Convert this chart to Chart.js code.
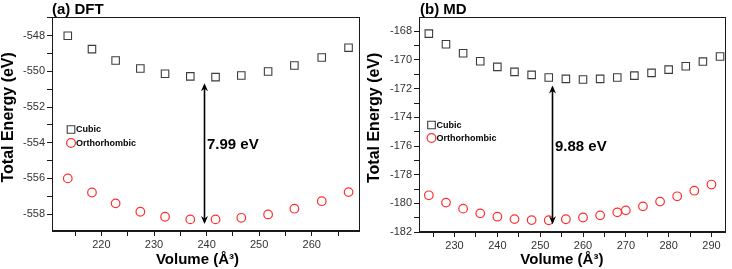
<!DOCTYPE html>
<html><head><meta charset="utf-8">
<script src="https://cdn.jsdelivr.net/npm/chart.js@4.4.0/dist/chart.umd.min.js"></script>
<style>
html,body{margin:0;padding:0;background:#fff;}
#wrap{position:relative;width:732px;height:269px;overflow:hidden;background:#fff;}
.panel{position:absolute;top:0;width:366px;height:269px;}
.panel canvas{display:block;}
.ptitle{position:absolute;top:0;font:bold 15px "Liberation Sans",Arial,sans-serif;color:#000;line-height:17px;white-space:nowrap;}
</style></head><body>
<div id="wrap">
<div class="panel" style="left:0"><canvas id="c1" width="366" height="269"></canvas></div>
<div class="panel" style="left:366px"><canvas id="c2" width="366" height="269"></canvas></div>
<div class="ptitle" style="left:52px">(a) DFT</div>
<div class="ptitle" style="left:420px">(b) MD</div>
</div>
<script>
// ---------- data ----------
const seriesNames = ['Cubic', 'Orthorhombic'];

const dftVolume = [213.6, 218.2, 222.7, 227.4, 232.1, 236.9, 241.7, 246.6, 251.7, 256.7, 261.9, 267.0];
const dftCubic  = [-548.00, -548.75, -549.39, -549.84, -550.13, -550.28, -550.32, -550.23, -550.01, -549.67, -549.22, -548.67];
const dftOrtho  = [-556.00, -556.79, -557.40, -557.87, -558.15, -558.30, -558.30, -558.21, -558.02, -557.70, -557.28, -556.77];

const mdVolumeCubic = [224, 228, 232, 236, 240, 244, 248, 252, 256, 260, 264, 268, 272, 276, 280, 284, 288, 292];
const mdCubic       = [-168.16, -168.90, -169.53, -170.09, -170.48, -170.83, -171.04, -171.22, -171.32, -171.36, -171.32, -171.22, -171.09, -170.90, -170.67, -170.44, -170.11, -169.76];
const mdVolumeOrtho = [224, 228, 232, 236, 240, 244, 248, 252, 256, 260, 264, 268, 270, 274, 278, 282, 286, 290];
const mdOrtho       = [-179.44, -179.95, -180.37, -180.70, -180.93, -181.10, -181.17, -181.18, -181.11, -180.99, -180.84, -180.63, -180.49, -180.21, -179.88, -179.51, -179.12, -178.69];

const dftXTicks = [215, 220, 225, 230, 235, 240, 245, 250, 255, 260, 265];
const dftXLabels = [220, 230, 240, 250, 260];
const dftYTicks = [-558, -557, -556, -555, -554, -553, -552, -551, -550, -549, -548, -547];
const dftYLabels = [-558, -556, -554, -552, -550, -548];

const mdXTicks = [225, 230, 235, 240, 245, 250, 255, 260, 265, 270, 275, 280, 285, 290];
const mdXLabels = [230, 240, 250, 260, 270, 280, 290];
const mdYTicks = [-182, -181, -180, -179, -178, -177, -176, -175, -174, -173, -172, -171, -170, -169, -168];
const mdYLabels = [-182, -180, -178, -176, -174, -172, -170, -168];

const dftGap = {x: 239.5, top: -550.67, bottom: -558.56, text: '7.99 eV', textY: -554.12};
const mdGap  = {x: 252.7, top: -171.78, bottom: -181.46, text: '9.88 eV', textY: -176.05};

const xTitle = 'Volume (Å³)';
const yTitle = 'Total Energy (eV)';

// ---------- plugins ----------
const FONT = '"Liberation Sans", Arial, sans-serif';

const framePlugin = {
  id: 'frame',
  afterDatasetsDraw(chart) {
    const {ctx, chartArea: a} = chart;
    ctx.save();
    ctx.strokeStyle = '#1a1a1a';
    ctx.lineWidth = 1;
    const l = Math.round(a.left) + 0.5, r = Math.round(a.right) - 0.5;
    const t = Math.round(a.top) + 0.5, b = Math.round(a.bottom) - 0.5;
    ctx.strokeRect(l, t, r - l, b - t);
    ctx.restore();
  }
};

const arrowPlugin = {
  id: 'gapArrow',
  afterDatasetsDraw(chart, args, opts) {
    if (!opts || opts.x === undefined) return;
    const {ctx, scales: {x, y}} = chart;
    const px = Math.round(x.getPixelForValue(opts.x)) + 0.5;
    const y1 = y.getPixelForValue(opts.top);
    const y2 = y.getPixelForValue(opts.bottom);
    ctx.save();
    ctx.strokeStyle = '#000';
    ctx.fillStyle = '#000';
    ctx.lineWidth = 1.6;
    ctx.beginPath();
    ctx.moveTo(px, y1 + 2);
    ctx.lineTo(px, y2 - 2);
    ctx.stroke();
    const hl = 8, hw = 3.5;
    ctx.beginPath();
    ctx.moveTo(px, y1); ctx.lineTo(px - hw, y1 + hl); ctx.lineTo(px, y1 + hl - 2.5); ctx.lineTo(px + hw, y1 + hl); ctx.closePath();
    ctx.fill();
    ctx.beginPath();
    ctx.moveTo(px, y2); ctx.lineTo(px - hw, y2 - hl); ctx.lineTo(px, y2 - hl + 2.5); ctx.lineTo(px + hw, y2 - hl); ctx.closePath();
    ctx.fill();
    ctx.font = 'bold 15px ' + FONT;
    ctx.textAlign = 'left';
    ctx.textBaseline = 'middle';
    ctx.fillText(opts.text, px + 2.5, y.getPixelForValue(opts.textY));
    ctx.restore();
  }
};

const insetLegend = {
  id: 'insetLegend',
  afterDatasetsDraw(chart, args, opts) {
    if (!opts || opts.dx === undefined) return;
    const {ctx, chartArea: a} = chart;
    ctx.save();
    ctx.font = 'bold 9px ' + FONT;
    ctx.textBaseline = 'middle';
    ctx.textAlign = 'left';
    chart.data.datasets.forEach((ds, i) => {
      const cx = a.left + opts.dx;
      const cy = a.top + opts.dy + i * opts.gap;
      ctx.strokeStyle = ds.borderColor;
      ctx.lineWidth = ds.borderWidth;
      ctx.beginPath();
      if (ds.pointStyle === 'rect') {
        const s = 3.8;
        ctx.rect(cx - s, cy - s, 2 * s, 2 * s);
      } else {
        ctx.arc(cx, cy, 4.4, 0, Math.PI * 2);
      }
      ctx.stroke();
      ctx.fillStyle = '#000';
      ctx.fillText(ds.label, cx + 5, cy + 0.5);
    });
    ctx.restore();
  }
};

// ---------- chart builder ----------
function makeChart(id, c) {
  const tickFont = {family: FONT, size: 11};
  return new Chart(document.getElementById(id), {
    type: 'scatter',
    data: {
      datasets: [
        {label: seriesNames[0], data: c.cx.map((v, i) => ({x: v, y: c.cy[i]})),
         pointStyle: 'rect', pointRadius: 5.3, pointHoverRadius: 5.3,
         borderColor: '#3c3c3c', backgroundColor: 'rgba(255,255,255,0)', borderWidth: 1.1},
        {label: seriesNames[1], data: c.ox.map((v, i) => ({x: v, y: c.oy[i]})),
         pointStyle: 'circle', pointRadius: 4.3, pointHoverRadius: 4.3,
         borderColor: '#ff2e2e', backgroundColor: 'rgba(255,255,255,0)', borderWidth: 1.2}
      ]
    },
    options: {
      responsive: false, animation: false, devicePixelRatio: 1,
      events: [],
      layout: {padding: {top: 17, right: 4, left: 0, bottom: 0}},
      plugins: {
        legend: {display: false}, tooltip: {enabled: false},
        gapArrow: c.gap,
        insetLegend: c.legend
      },
      scales: {
        x: {
          type: 'linear', min: c.xmin, max: c.xmax,
          afterFit: s => { s.height = c.xAxisH; },
          afterBuildTicks: s => { s.ticks = c.xTicks.map(v => ({value: v})); },
          ticks: {autoSkip: false, maxRotation: 0, padding: 2, color: '#333', font: tickFont,
                  callback: v => c.xLabels.includes(v) ? String(v) : ''},
          grid: {drawOnChartArea: false, drawTicks: true, tickLength: 5, tickColor: '#1a1a1a'},
          border: {display: true, color: '#1a1a1a', width: 1},
          title: {display: true, text: xTitle + c.xPad, color: '#000',
                  font: {family: FONT, size: 15, weight: 'bold', lineHeight: 1.15},
                  padding: {top: 0, bottom: 1}}
        },
        y: {
          type: 'linear', min: c.ymin, max: c.ymax,
          afterFit: s => { s.width = c.yAxisW; },
          afterBuildTicks: s => { s.ticks = c.yTicks.map(v => ({value: v})); },
          ticks: {autoSkip: false, padding: 2, color: '#333', font: tickFont,
                  callback: v => c.yLabels.includes(v) ? String(v) : ''},
          grid: {drawOnChartArea: false, drawTicks: true, tickLength: 5, tickColor: '#1a1a1a'},
          border: {display: true, color: '#1a1a1a', width: 1},
          title: {display: true, text: c.yPad + yTitle, color: '#000',
                  font: {family: FONT, size: 16, weight: 'bold', lineHeight: 1.05},
                  padding: {top: 0, bottom: 0}}
        }
      }
    },
    plugins: [framePlugin, arrowPlugin, insetLegend]
  });
}

makeChart('c1', {
  cx: dftVolume, cy: dftCubic, ox: dftVolume, oy: dftOrtho,
  xmin: 210.6, xmax: 269.1, ymin: -558.95, ymax: -546.95,
  xTicks: dftXTicks, xLabels: dftXLabels, yTicks: dftYTicks, yLabels: dftYLabels,
  xAxisH: 38, yAxisW: 52, xPad: '    ', yPad: '   ',
  gap: dftGap, legend: {dx: 19, dy: 112.5, gap: 13.5}
});

makeChart('c2', {
  cx: mdVolumeCubic, cy: mdCubic, ox: mdVolumeOrtho, oy: mdOrtho,
  xmin: 221.7, xmax: 293.3, ymin: -182, ymax: -167,
  xTicks: mdXTicks, xLabels: mdXLabels, yTicks: mdYTicks, yLabels: mdYLabels,
  xAxisH: 37, yAxisW: 53, xPad: '     ', yPad: '   ',
  gap: mdGap, legend: {dx: 12.5, dy: 108, gap: 13}
});
</script>
</body></html>
